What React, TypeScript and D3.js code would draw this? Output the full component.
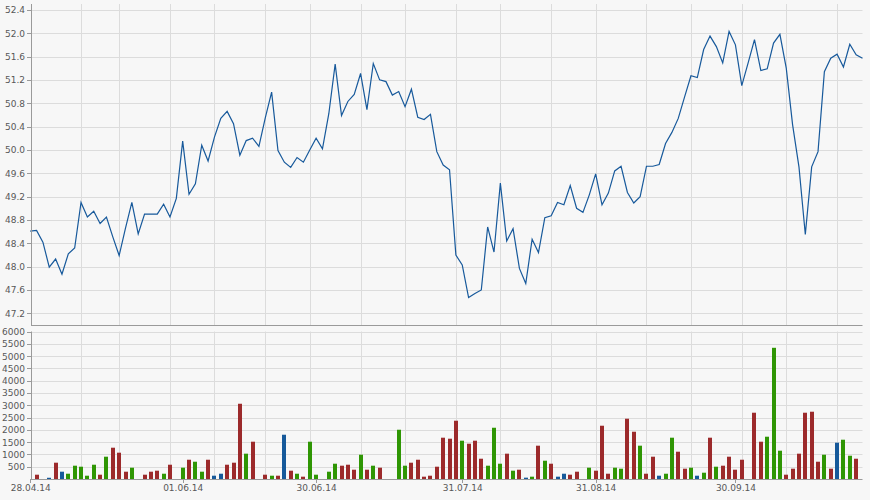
import React from "react";
import * as d3 from "d3";

const prices: number[] = [
  48.61, 48.62, 48.42, 47.99, 48.13, 47.87, 48.22, 48.32, 49.10, 48.85,
  48.95, 48.74, 48.85, 48.51, 48.19, 48.66, 49.10, 48.56, 48.90, 48.90,
  48.90, 49.07, 48.85, 49.17, 50.15, 49.24, 49.42, 50.08, 49.81, 50.22,
  50.54, 50.66, 50.45, 49.91, 50.16, 50.20, 50.06, 50.55, 50.99, 49.99,
  49.79, 49.70, 49.87, 49.79, 50.00, 50.20, 50.02, 50.62, 51.47, 50.59,
  50.83, 50.95, 51.31, 50.69, 51.48, 51.20, 51.17, 50.94, 51.00, 50.74,
  51.04, 50.56, 50.52, 50.61, 49.97, 49.74, 49.66, 48.20, 48.03, 47.47,
  47.54, 47.60, 48.68, 48.25, 49.43, 48.44, 48.65, 47.97, 47.71, 48.47,
  48.24, 48.84, 48.87, 49.10, 49.06, 49.39, 49.00, 48.93, 49.23, 49.59,
  49.06, 49.26, 49.64, 49.72, 49.27, 49.09, 49.20, 49.72, 49.72, 49.75,
  50.11, 50.30, 50.54, 50.91, 51.27, 51.24, 51.72, 51.95, 51.77, 51.49,
  52.03, 51.80, 51.10, 51.49, 51.89, 51.36, 51.39, 51.83, 51.98, 51.40,
  50.43, 49.71, 48.55, 49.71, 49.97, 51.34, 51.57, 51.64, 51.42, 51.81,
  51.63, 51.57,
];

const volumes: number[] = [
  0, 175, 0, 50, 663, 297, 215, 541, 500, 134,
  581, 175, 907, 1273, 1070, 297, 460, 0, 175, 297,
  338, 215, 581, 0, 460, 784, 703, 297, 784, 134,
  215, 581, 663, 3061, 1030, 1517, 0, 175, 134, 134,
  1801, 338, 215, 94, 1517, 175, 0, 297, 622, 541,
  581, 378, 988, 378, 541, 460, 0, 0, 2004, 541,
  663, 784, 94, 134, 500, 1680, 1639, 2371, 1558, 1436,
  1558, 825, 541, 2085, 622, 1030, 338, 378, 54, 94,
  1355, 744, 622, 94, 215, 175, 297, 0, 460, 338,
  2167, 215, 460, 419, 2452, 1923, 1355, 215, 907, 134,
  215, 1680, 1110, 419, 460, 134, 256, 1680, 500, 541,
  907, 378, 784, 0, 2696, 1517, 1720, 5337, 1151, 175,
  419, 1030, 2696, 2737, 703, 988, 419, 1477, 1598, 947,
  825, 0,
];

// per-index bar colour: r = red, g = green, b = blue, - = no bar
const volumeKinds: string =
  "-r-brbggggg" + // 0-10
  "rgrrrg-rrrg" + // 11-21
  "r-grggrbbrr" + // 22-32
  "rgr-rgrbrgr" + // 33-43
  "gg-ggrrrgrg" + // 44-54
  "r--ggrrrrrr" + // 55-65
  "rrgrrrgggrg" + // 66-76
  "rbgrgrbbrr-" + // 77-87
  "grrrggrrgrr" + // 88-98
  "bggrrgbgrgr" + // 99-109
  "rrr-rrgggrr" + // 110-120
  "rrrrgrbggr-"; // 121-131

const priceTicks: number[] = [47.2, 47.6, 48.0, 48.4, 48.8, 49.2, 49.6, 50.0, 50.4, 50.8, 51.2, 51.6, 52.0, 52.4];
const volumeTicks: number[] = [500, 1000, 1500, 2000, 2500, 3000, 3500, 4000, 4500, 5000, 5500, 6000];
const dateLabels: string[] = ["28.04.14", "01.06.14", "30.06.14", "31.07.14", "31.08.14", "30.09.14"];
const dateLabelIndex: number[] = [0, 24, 45, 68, 89, 111];
const gridIndex: number[] = [8, 14, 22, 29, 37, 44, 52, 59, 67, 74, 82, 89, 97, 104, 112, 119, 127];

const W = 870;
const H = 500;
const left = 31;
const right = 862.5;
const topY = 4;
const topBottom = 325;
const volTop = 331.5;
const volBottom = 479;

const colorMap: Record<string, string> = { r: "#9c2a2b", g: "#2f9604", b: "#16599a" };

export default function App() {
  const x = d3.scaleLinear().domain([0, 131]).range([30.2, right]);
  const yP = d3.scaleLinear().domain([47.0, 52.5]).range([topBottom, topY]);
  const yV = d3.scaleLinear().domain([0, 6000]).range([volBottom, volTop]);

  const line = d3
    .line<number>()
    .x((_, i) => x(i))
    .y((d) => yP(d));

  const px = (v: number) => Math.round(v) + 0.5;
  const grid = "#dcdcdc";
  const axis = "#9a9a9a";
  const textCol = "#585858";
  const font = "'DejaVu Sans', Verdana, sans-serif";
  const fs = 9;
  const barW = 4;

  return (
    <div style={{ position: "fixed", left: 0, top: 0, width: W, height: H, background: "#f7f7f7" }}>
      <svg width={W} height={H} style={{ display: "block" }}>
        <rect x={0} y={0} width={W} height={H} fill="#f7f7f7" />
        {priceTicks.map((t) => (
          <line key={"pg" + t} x1={left} x2={right} y1={px(yP(t))} y2={px(yP(t))} stroke={grid} />
        ))}
        {gridIndex.map((g) => (
          <line key={"vg" + g} x1={px(x(g))} x2={px(x(g))} y1={topY} y2={topBottom} stroke={grid} />
        ))}
        {volumeTicks.map((t) => (
          <line key={"vgh" + t} x1={left} x2={right} y1={px(yV(t))} y2={px(yV(t))} stroke={grid} />
        ))}
        {gridIndex.map((g) => (
          <line key={"vgv" + g} x1={px(x(g))} x2={px(x(g))} y1={volTop} y2={volBottom} stroke={grid} />
        ))}
        <path d={line(prices) || ""} fill="none" stroke="#17599b" strokeWidth={1.2} />
        {volumes.map((v, i) =>
          v > 0 ? (
            <rect
              key={"b" + i}
              x={Math.round(x(i) - barW / 2)}
              y={yV(v)}
              width={barW}
              height={volBottom - yV(v)}
              fill={colorMap[volumeKinds[i]] || colorMap.r}
            />
          ) : null
        )}
        <line x1={left + 0.5} x2={left + 0.5} y1={topY} y2={topBottom + 0.5} stroke={axis} />
        <line x1={left} x2={right} y1={topBottom + 0.5} y2={topBottom + 0.5} stroke={axis} />
        <line x1={left + 0.5} x2={left + 0.5} y1={volTop} y2={volBottom + 0.5} stroke={axis} />
        <line x1={left} x2={right} y1={volBottom + 0.5} y2={volBottom + 0.5} stroke={axis} />
        {priceTicks.map((t) => (
          <g key={"pt" + t}>
            <line x1={27} x2={left} y1={px(yP(t))} y2={px(yP(t))} stroke={axis} />
            <text x={25} y={yP(t) + 3.5} textAnchor="end" fontSize={fs} fontFamily={font} fill={textCol}>
              {t.toFixed(1)}
            </text>
          </g>
        ))}
        {volumeTicks.map((t) => (
          <g key={"vt" + t}>
            <line x1={27} x2={left} y1={px(yV(t))} y2={px(yV(t))} stroke={axis} />
            <text x={25} y={yV(t) + 3.5} textAnchor="end" fontSize={fs} fontFamily={font} fill={textCol}>
              {t}
            </text>
          </g>
        ))}
        {dateLabels.map((lab, k) => (
          <g key={"dl" + lab}>
            <line
              x1={px(x(dateLabelIndex[k]))}
              x2={px(x(dateLabelIndex[k]))}
              y1={volBottom}
              y2={volBottom + 4}
              stroke={axis}
            />
            <text
              x={x(dateLabelIndex[k]) + 0.5}
              y={491}
              textAnchor="middle"
              fontSize={fs}
              fontFamily={font}
              fill={textCol}
            >
              {lab}
            </text>
          </g>
        ))}
      </svg>
    </div>
  );
}
